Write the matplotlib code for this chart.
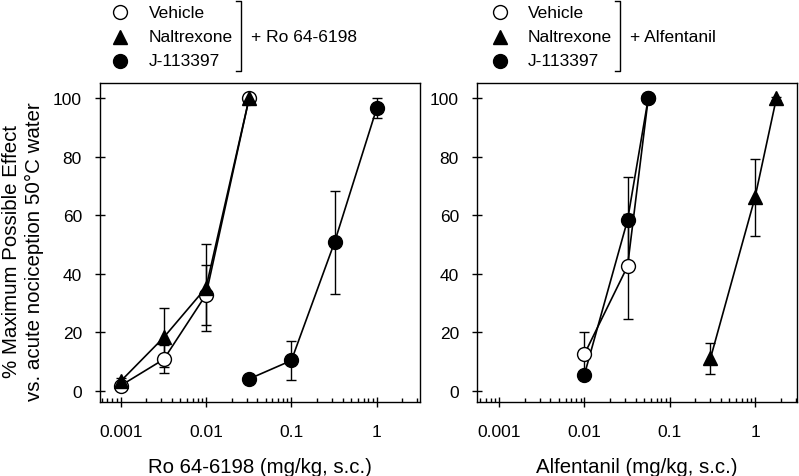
import matplotlib
matplotlib.use("Agg")
import matplotlib.pyplot as plt
import numpy as np

plt.rcParams['font.family'] = ['Liberation Sans', 'DejaVu Sans']
plt.rcParams['font.size'] = 12.5

# left panel: Ro 64-6198 dose (mg/kg)
ro_veh_x = [0.001, 0.0032, 0.01, 0.032]
ro_veh_y = [1.7, 10.7, 32.8, 100]
ro_veh_e = [1.2, 4.8, 10.2, 0.8]
ro_nal_x = [0.001, 0.0032, 0.01, 0.032]
ro_nal_y = [3.2, 18.2, 35.2, 100]
ro_nal_e = [1.0, 10.0, 14.8, 1.0]
ro_j_x = [0.032, 0.1, 0.32, 1.0]
ro_j_y = [4.0, 10.3, 50.7, 96.6]
ro_j_e = [0.5, 6.6, 17.7, 3.4]

# right panel: alfentanil dose (mg/kg)
al_veh_x = [0.01, 0.032, 0.056]
al_veh_y = [12.5, 42.5, 100]
al_veh_e = [7.5, 18.0, 0.5]
al_nal_x = [0.3, 1.0, 1.78]
al_nal_y = [11.0, 66.1, 100]
al_nal_e = [5.3, 13.1, 0.5]
al_j_x = [0.01, 0.032, 0.056]
al_j_y = [5.5, 58.3, 100]
al_j_e = [1.0, 14.7, 0.5]

W, H = 799, 477
fig = plt.figure(figsize=(W / 100, H / 100), dpi=100)

def fx(p):
    return p / W

def fy(p):
    return 1 - p / H

def draw_series(ax, x, y, e, marker, face, ms):
    ax.errorbar(x, y, yerr=e, fmt='none', ecolor='black', elinewidth=1,
                capsize=3.6, capthick=1, zorder=2)
    ax.plot(x, y, '-', color='black', lw=1.2, zorder=3)
    ax.plot(x, y, marker, ms=ms, mfc=face, mec='black', mew=1, ls='none', zorder=4)

def setup(ax, xlim, xlabel):
    ax.set_xscale('log')
    ax.set_xlim(*xlim)
    ax.set_ylim(-4, 105.2)
    ax.set_yticks([0, 20, 40, 60, 80, 100])
    ax.set_xticks([0.001, 0.01, 0.1, 1])
    ax.set_xticklabels(['0.001', '0.01', '0.1', '1'])
    ax.xaxis.set_minor_locator(matplotlib.ticker.LogLocator(base=10, subs=np.arange(2, 10)))
    ax.xaxis.set_minor_formatter(matplotlib.ticker.NullFormatter())
    ax.tick_params(axis='x', which='major', direction='inout', length=7, width=1, pad=12)
    ax.tick_params(axis='y', which='major', direction='inout', length=7, width=1, pad=9.5)
    ax.tick_params(axis='x', which='minor', direction='in', length=3, width=1)
    ax.tick_params(axis='y', which='minor', left=False)
    for s in ax.spines.values():
        s.set_linewidth(1)
    ax.set_xlabel(xlabel, fontsize=14.7, labelpad=13)

ax1 = fig.add_axes([fx(100), fy(403.3), fx(320), 319.3 / H])
draw_series(ax1, ro_veh_x, ro_veh_y, ro_veh_e, 'o', 'white', 10)
draw_series(ax1, ro_nal_x, ro_nal_y, ro_nal_e, '^', 'black', 10)
draw_series(ax1, ro_j_x, ro_j_y, ro_j_e, 'o', 'black', 10)
setup(ax1, (0.000573, 3.21), 'Ro 64-6198 (mg/kg, s.c.)')
fig.text(fx(23), fy(252), '% Maximum Possible Effect\nvs. acute nociception 50\u00b0C water',
         rotation=90, ha='center', va='center', fontsize=14.8, linespacing=1.2)

ax2 = fig.add_axes([fx(477), fy(403.3), fx(319.7), 319.3 / H])
draw_series(ax2, al_veh_x, al_veh_y, al_veh_e, 'o', 'white', 10)
draw_series(ax2, al_nal_x, al_nal_y, al_nal_e, '^', 'black', 10)
draw_series(ax2, al_j_x, al_j_y, al_j_e, 'o', 'black', 10)
setup(ax2, (0.00055, 3.08), 'Alfentanil (mg/kg, s.c.)')

# legends with bracket
names = ['Vehicle', 'Naltrexone', 'J-113397']
marks = [('o', 'white'), ('^', 'black'), ('o', 'black')]
rows = [13, 37.5, 62]

def legend(mx, tx, bx, label):
    for (m, f), name, r in zip(marks, names, rows):
        fig.add_artist(matplotlib.lines.Line2D([fx(mx)], [fy(r)], marker=m, ms=10,
                                               mfc=f, mec='black', mew=1, ls='none'))
        fig.text(fx(tx), fy(r), name, va='center', ha='left')
    fig.add_artist(matplotlib.lines.Line2D([fx(bx - 5), fx(bx), fx(bx), fx(bx - 5)],
                                           [fy(2), fy(2), fy(72), fy(72)],
                                           color='black', lw=1))
    fig.text(fx(bx + 10), fy(37.5), label, va='center', ha='left')

legend(120, 149, 241, '+ Ro 64-6198')
legend(500, 528, 620, '+ Alfentanil')

fig.savefig('out.png', dpi=100)
